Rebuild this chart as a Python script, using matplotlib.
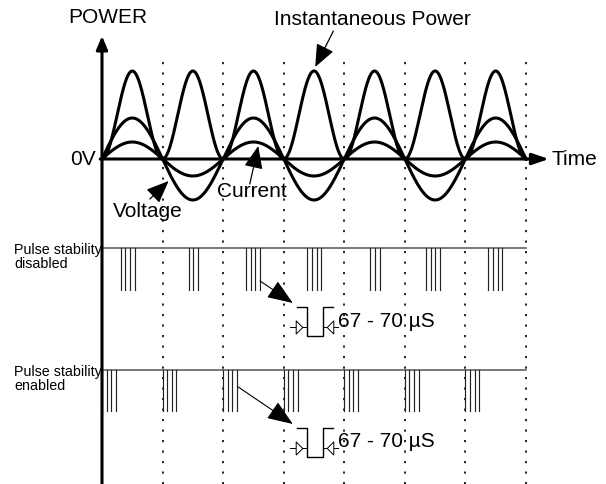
import numpy as np
import matplotlib.pyplot as plt

plt.rcParams['font.family'] = ['Liberation Sans', 'DejaVu Sans']

# waveforms: time in half-cycles of the mains, level in px-like units above 0V
n_half = 7
power_amp = 88
voltage_amp = 41
current_amp = 17
crossings = [1, 2, 3, 4, 5, 6, 7]

# pulse bursts (start in half-cycles, number of pulses per burst)
disabled_starts = [0.31, 1.43, 2.38, 3.39, 4.43, 5.35, 6.38]
disabled_counts = [4, 3, 4, 4, 3, 4, 4]
enabled_starts = [0, 1, 2, 3, 4, 5, 6]
enabled_counts = [4, 4, 4, 4, 4, 4, 4]
pulse_gap = 0.076

# row levels: (baseline, pulse bottom, detail top, detail bottom, dim line, text)
row_disabled = (-89, -131, -148, -177, -168, -162)
row_enabled = (-211, -252, -269, -298, -289, -282)
detail_label = "67 - 70 µS"

fig = plt.figure(figsize=(6.06, 4.85), dpi=100)
ax = fig.add_axes([0, 0, 1, 1])
ax.set_xlim(-1.684, 8.321)
ax.set_ylim(-325, 160)
ax.axis("off")

t = np.linspace(0, n_half, 1400)
ax.plot(t, power_amp * np.sin(np.pi * t) ** 2, color="k", lw=2.2)
ax.plot(t, voltage_amp * np.sin(np.pi * t), color="k", lw=2.2)
ax.plot(t, current_amp * np.sin(np.pi * t), color="k", lw=2.2)

# dotted zero-crossing markers
for c in crossings:
    ax.plot([c, c], [97, -325], color="k", lw=1.2, linestyle=(0, (1.3, 5)))

# axes with arrows
ax.annotate("", xy=(0.0, 123), xytext=(0.0, -330),
            arrowprops=dict(arrowstyle="-|>,head_length=0.8,head_width=0.34",
                            lw=2.2, color="k", mutation_scale=10,
                            shrinkA=0, shrinkB=0))
ax.annotate("", xy=(7.38, 0), xytext=(-0.03, 0),
            arrowprops=dict(arrowstyle="-|>,head_length=1.0,head_width=0.34",
                            lw=2.2, color="k", mutation_scale=10,
                            shrinkA=0, shrinkB=0))

ax.text(0.10, 142, "POWER", fontsize=15, ha="center", va="center")
ax.text(-0.11, 0, "0V", fontsize=15, ha="right", va="center")
ax.text(7.42, 0, "Time", fontsize=15, ha="left", va="center")
ax.text(4.46, 140, "Instantaneous Power", fontsize=15, ha="center", va="center")
ax.text(0.76, -52, "Voltage", fontsize=15, ha="center", va="center")
ax.text(2.48, -32, "Current", fontsize=15, ha="center", va="center")

ah = dict(arrowstyle="-|>,head_length=1.4,head_width=0.58", lw=0.9,
          color="k", mutation_scale=10, shrinkA=0, shrinkB=0)
ax.annotate("", xy=(3.52, 92), xytext=(3.82, 128), arrowprops=ah)
ax.annotate("", xy=(1.10, -22), xytext=(0.79, -40), arrowprops=ah)
ax.annotate("", xy=(2.58, 13), xytext=(2.44, -25), arrowprops=ah)


def pulse_row(row, starts, counts, label, arrow_from):
    base, bottom, top, low, dim, ytext = row
    ax.plot([0, 7], [base, base], color="#555555", lw=1.1)
    for s, n in zip(starts, counts):
        for k in range(n):
            x = s + k * pulse_gap
            ax.plot([x, x], [base, bottom], color="#222222", lw=0.85)
    ax.text(-1.453, base - 8, label, fontsize=10.3, ha="left", va="center",
            linespacing=1.05)
    # callout arrow to enlarged pulse
    ax.annotate("", xy=(3.15, top + 4), xytext=arrow_from,
                arrowprops=dict(arrowstyle="-|>,head_length=1.6,head_width=0.62",
                                lw=0.8, color="k", mutation_scale=10,
                                shrinkA=0, shrinkB=0))
    left, width, lead = 3.385, 0.264, 0.16
    ax.plot([left - lead, left, left, left + width, left + width, left + width + lead],
            [top, top, low, low, top, top], color="k", lw=1.0)
    # dimension markers
    ax.plot([left - 0.28, left - 0.02], [dim, dim], color="k", lw=0.7)
    ax.plot([left + width + 0.02, left + width + 0.25], [dim, dim], color="k", lw=0.7)
    tri_r = [(-0.5, -1), (0.5, 0), (-0.5, 1), (-0.5, -1)]
    tri_l = [(0.5, -1), (-0.5, 0), (0.5, 1), (0.5, -1)]
    ax.plot([left - 0.135], [dim], marker=tri_r, markersize=9.5,
            markerfacecolor="white", markeredgecolor="k", markeredgewidth=0.7)
    ax.plot([left + width + 0.115], [dim], marker=tri_l, markersize=9.5,
            markerfacecolor="white", markeredgecolor="k", markeredgewidth=0.7)
    ax.text(left + width + 0.245, ytext, detail_label, fontsize=15,
            ha="left", va="center")


pulse_row(row_disabled, disabled_starts, disabled_counts,
          "Pulse stability\ndisabled", (2.61, -122))
pulse_row(row_enabled, enabled_starts, enabled_counts,
          "Pulse stability\nenabled", (2.25, -228))

fig.savefig("out.png", dpi=100)
